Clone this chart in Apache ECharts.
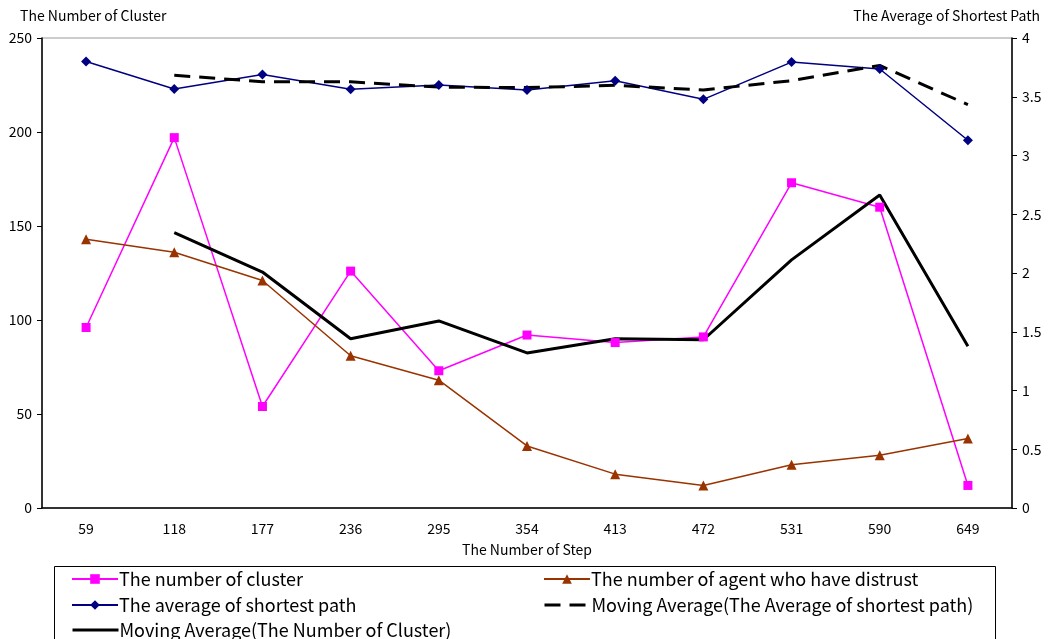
<!DOCTYPE html>
<html>
<head>
<meta charset="utf-8">
<script src="https://cdn.jsdelivr.net/npm/echarts@6/dist/echarts.min.js"></script>
<style>html,body{margin:0;padding:0;background:#fff}#c{width:1048px;height:639px}</style>
</head>
<body>
<div id="c"></div>
<script>
const steps = ['59','118','177','236','295','354','413','472','531','590','649'];
const clusterCount = [96,197,54,126,73,92,88,91,173,160,12];
const distrustCount = [143,136,121,81,68,33,18,12,23,28,37];
const avgShortestPath = [3.80,3.566,3.69,3.563,3.60,3.557,3.637,3.478,3.795,3.736,3.13];
const maAvgPath = [null,3.683,3.628,3.627,3.582,3.578,3.597,3.558,3.637,3.766,3.433];
const maCluster = [null,146.5,125.5,90,99.5,82.5,90,89.5,132,166.5,86];

const FONT = '"Noto Sans CJK JP", "Noto Sans", sans-serif';
function lg(left, top, name, hideSymbol) {
  return {
    orient: 'horizontal', left: left, top: top, itemWidth: 46, itemHeight: 12,
    textStyle: {fontSize: 18, color: '#000', fontFamily: FONT, padding: [0,0,0,-4]},
    data: [hideSymbol ? {name: name, itemStyle: {opacity: 0}, lineStyle: {width: 3}} : name]
  };
}
const chart = echarts.init(document.getElementById('c'));
chart.setOption({
  animation: false,
  textStyle: {fontFamily: FONT},
  grid: {left: 42, right: 36, top: 38, bottom: 131, show: true, borderColor: '#999', borderWidth: 1},
  graphic: [
    {type: 'text', left: 20, top: 9, style: {text: 'The Number of Cluster', font: '14px ' + FONT, fill: '#000'}},
    {type: 'text', right: 8, top: 9, style: {text: 'The Average of Shortest Path', font: '14px ' + FONT, fill: '#000'}},
    {type: 'rect', shape: {x: 54.5, y: 566.5, width: 941, height: 90}, style: {fill: 'none', stroke: '#000', lineWidth: 1}, z: 0}
  ],
  legend: [
    lg(66, 565, 'The number of cluster', false),
    lg(538, 565, 'The number of agent who have distrust', false),
    lg(66, 591, 'The average of shortest path', false),
    lg(538, 591, 'Moving Average(The Average of shortest path)', true),
    lg(66, 616, 'Moving Average(The Number of Cluster)', true)
  ],
  xAxis: {
    type: 'category', data: steps,
    name: 'The Number of Step', nameLocation: 'middle', nameGap: 35,
    nameTextStyle: {fontSize: 14, color: '#000'},
    axisLine: {lineStyle: {color: '#000', width: 1.5}},
    axisTick: {inside: true, length: 5, lineStyle: {color: '#000'}},
    axisLabel: {fontSize: 14, color: '#000', margin: 14}
  },
  yAxis: [
    {type: 'value', min: 0, max: 250, interval: 50, position: 'left',
     axisLine: {show: true, lineStyle: {color: '#000', width: 1.5}},
     axisTick: {show: true, length: 5, lineStyle: {color: '#000'}},
     axisLabel: {fontSize: 14, color: '#000', margin: 10},
     splitLine: {show: false}},
    {type: 'value', min: 0, max: 4, interval: 0.5, position: 'right',
     axisLine: {show: true, lineStyle: {color: '#000', width: 1.5}},
     axisTick: {show: true, length: 5, lineStyle: {color: '#000'}},
     axisLabel: {fontSize: 14, color: '#000', margin: 10},
     splitLine: {show: false}}
  ],
  series: [
    {name: 'The number of cluster', type: 'line', yAxisIndex: 0, data: clusterCount,
     symbol: 'rect', symbolSize: 9, itemStyle: {color: '#FF00FF'}, lineStyle: {color: '#FF00FF', width: 1.5}},
    {name: 'The number of agent who have distrust', type: 'line', yAxisIndex: 0, data: distrustCount,
     symbol: 'triangle', symbolSize: 10, itemStyle: {color: '#993300'}, lineStyle: {color: '#993300', width: 1.5}},
    {name: 'The average of shortest path', type: 'line', yAxisIndex: 1, data: avgShortestPath,
     symbol: 'diamond', symbolSize: 10, itemStyle: {color: '#000080'}, lineStyle: {color: '#000080', width: 1.5}},
    {name: 'Moving Average(The Average of shortest path)', type: 'line', yAxisIndex: 1, data: maAvgPath,
     symbol: 'none', itemStyle: {color: '#000'}, lineStyle: {color: '#000', width: 3, type: [16, 9]}},
    {name: 'Moving Average(The Number of Cluster)', type: 'line', yAxisIndex: 0, data: maCluster,
     symbol: 'none', itemStyle: {color: '#000'}, lineStyle: {color: '#000', width: 3}}
  ]
});
</script>
</body>
</html>
